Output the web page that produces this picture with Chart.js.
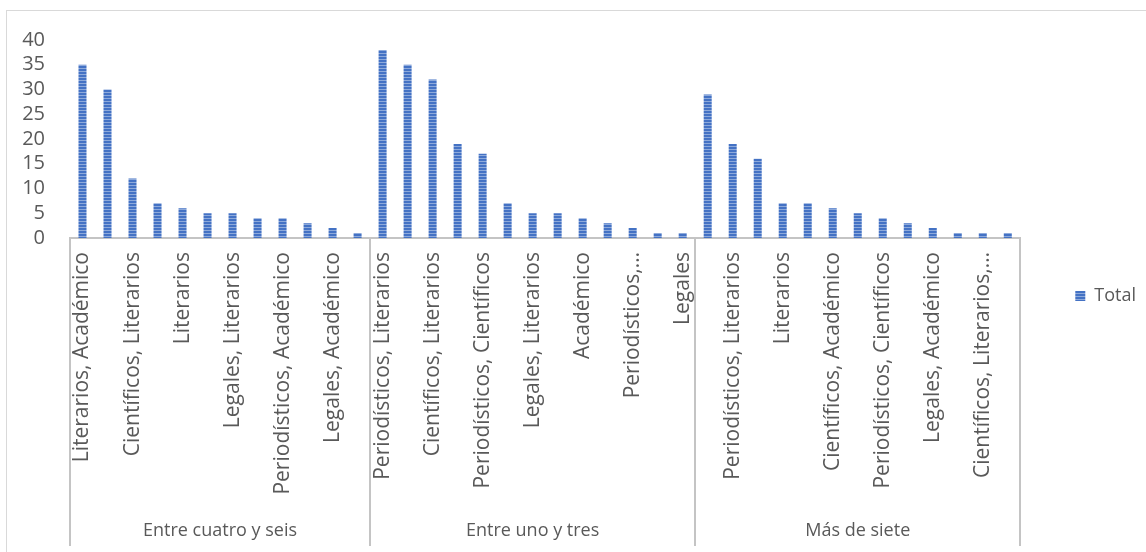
<!DOCTYPE html>
<html lang="es">
<head>
<meta charset="utf-8">
<title>Total por tipo de texto</title>
<script src="https://cdn.jsdelivr.net/npm/chart.js@4.4.1/dist/chart.umd.min.js"></script>
<style>
  html, body { margin: 0; padding: 0; background: #fff; }
  #wrap { position: relative; width: 1146px; height: 552px; }
</style>
</head>
<body>
<div id="wrap"><canvas id="chart"></canvas></div>
<script>
// Text types read, grouped by how many per period (outer level of the axis)
const groups = ['Entre cuatro y seis', 'Entre uno y tres', 'Más de siete'];
const groupSizes = [12, 13, 13];

const categories = [
  // Entre cuatro y seis
  'Literarios, Académico', 'Periodísticos, Literarios', 'Científicos, Literarios', 'Periodísticos, Científicos',
  'Literarios', 'Científicos, Académico', 'Legales, Literarios', 'Académico',
  'Periodísticos, Académico', 'Científicos', 'Legales, Académico', 'Periodísticos',
  // Entre uno y tres
  'Periodísticos, Literarios', 'Literarios, Académico', 'Científicos, Literarios', 'Literarios',
  'Periodísticos, Científicos', 'Científicos, Académico', 'Legales, Literarios', 'Periodísticos, Académico',
  'Académico', 'Científicos', 'Periodísticos,…', 'Legales, Académico', 'Legales',
  // Más de siete
  'Literarios, Académico', 'Periodísticos, Literarios', 'Científicos, Literarios', 'Literarios',
  'Académico', 'Científicos, Académico', 'Periodísticos, Académico', 'Periodísticos, Científicos',
  'Legales, Literarios', 'Legales, Académico', 'Científicos', 'Científicos, Literarios,…', 'Legales'
];

const totals = [
  35, 30, 12, 7, 6, 5, 5, 4, 4, 3, 2, 1,
  38, 35, 32, 19, 17, 7, 5, 5, 4, 3, 2, 1, 1,
  29, 19, 16, 7, 7, 6, 5, 4, 3, 2, 1, 1, 1
];

const yMin = 0, yMax = 40, yStep = 5;

const TEXT = '#595959';
const LINE = '#c4c4c4';
const FONT = "'Open Sans', sans-serif";

// horizontal stripe fill, like the office pattern fill
function stripeFill() {
  const c = document.createElement('canvas');
  c.width = 4; c.height = 3;
  const g = c.getContext('2d');
  g.fillStyle = '#4472c4'; g.fillRect(0, 0, 4, 2);
  g.fillStyle = '#8eaadb'; g.fillRect(0, 2, 4, 1);
  return g.createPattern(c, 'repeat');
}

// outer frame, group dividers and group names under the category labels
const groupAxis = {
  id: 'groupAxis',
  beforeDraw(chart) {
    const ctx = chart.ctx;
    ctx.save();
    ctx.strokeStyle = '#d9d9d9';
    ctx.lineWidth = 1;
    ctx.strokeRect(6.5, 10.5, chart.width + 20, chart.height + 20);
    ctx.restore();
  },
  afterDraw(chart) {
    const x = chart.scales.x;
    const ctx = chart.ctx;
    const top = chart.chartArea.bottom;
    const bottom = x.bottom - 6;
    ctx.save();
    ctx.strokeStyle = LINE;
    ctx.lineWidth = 2;
    let start = 0;
    const edges = [0];
    groupSizes.forEach(n => { start += n; edges.push(start); });
    edges.forEach(i => {
      const px = Math.round(x.getPixelForValue(i - 0.5));
      ctx.beginPath();
      ctx.moveTo(px, top);
      ctx.lineTo(px, bottom);
      ctx.stroke();
    });
    ctx.fillStyle = TEXT;
    ctx.font = '18px ' + FONT;
    ctx.textAlign = 'center';
    ctx.textBaseline = 'middle';
    groups.forEach((name, g) => {
      const a = x.getPixelForValue(edges[g] - 0.5);
      const b = x.getPixelForValue(edges[g + 1] - 0.5);
      ctx.fillText(name, (a + b) / 2, x.bottom - 21);
    });
    ctx.restore();
  }
};

const ctx = document.getElementById('chart').getContext('2d');

new Chart(ctx, {
  type: 'bar',
  data: {
    labels: categories,
    datasets: [{
      label: 'Total',
      data: totals,
      backgroundColor: stripeFill(),
      borderWidth: 0,
      categoryPercentage: 1,
      barPercentage: 0.32
    }]
  },
  options: {
    responsive: true,
    maintainAspectRatio: false,
    animation: false,
    layout: { padding: { top: 40, left: 0, right: 0, bottom: 0 } },
    plugins: {
      legend: {
        position: 'right',
        labels: {
          boxWidth: 10,
          boxHeight: 10,
          padding: 55,
          color: TEXT,
          font: { family: FONT, size: 18 }
        }
      },
      tooltip: { enabled: false }
    },
    scales: {
      x: {
        grid: { display: false, drawTicks: false },
        border: { display: true, color: LINE, width: 2 },
        ticks: {
          autoSkip: false,
          minRotation: 90,
          maxRotation: 90,
          padding: 14,
          color: TEXT,
          font: { family: FONT, size: 21 },
          callback: function(value, i) {
            return i % 2 === 0 ? this.getLabelForValue(value) : '';
          }
        },
        afterFit: scale => { scale.height = 314; }
      },
      y: {
        min: yMin,
        max: yMax,
        grid: { display: false, drawTicks: false },
        border: { display: false },
        ticks: {
          stepSize: yStep,
          autoSkip: false,
          padding: 25,
          color: TEXT,
          font: { family: FONT, size: 20 }
        },
        afterFit: scale => { scale.width = 70; }
      }
    }
  },
  plugins: [groupAxis]
});
</script>
</body>
</html>
